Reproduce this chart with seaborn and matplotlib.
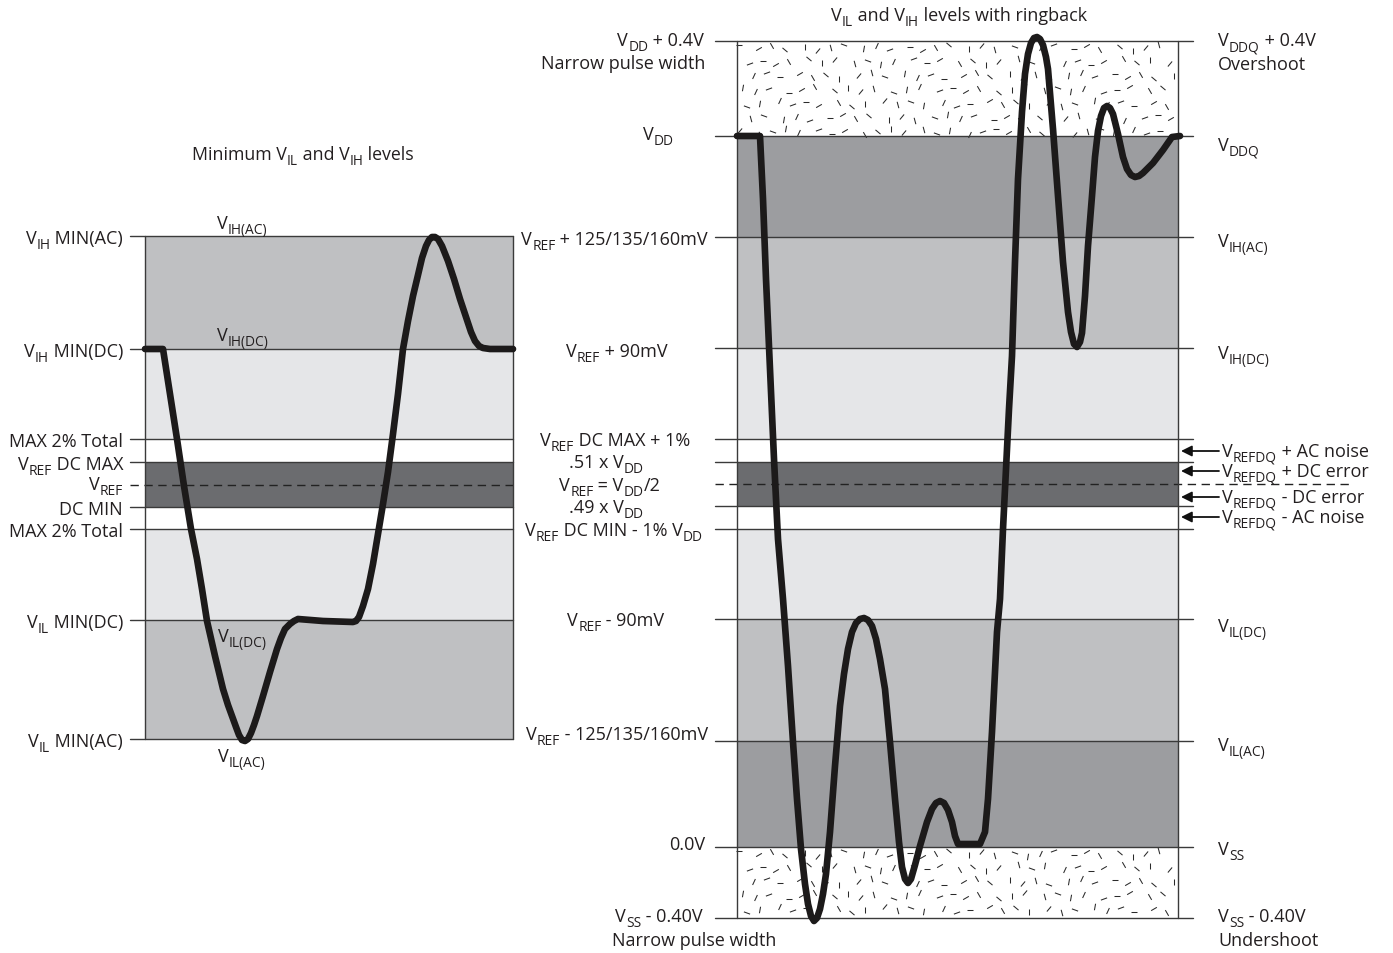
import numpy as np
import matplotlib
matplotlib.use('Agg')
import matplotlib.pyplot as plt
import seaborn as sns
from matplotlib.collections import LineCollection

sns.set_theme(style='white')
plt.rcParams['font.family'] = ['Open Sans', 'DejaVu Sans']

# --- level positions (pixel rows) ---
left_levels = [237, 350, 440, 463, 486, 508, 530, 621, 740]
right_levels = [42, 137, 238, 349, 440, 463, 485, 507, 530, 620, 742, 848, 919]

MID, LIGHT, DARK, DARKER = '#bfc0c2', '#e5e6e8', '#6b6c6f', '#9c9da0'

left_bands = [(237, 350, MID), (350, 440, LIGHT), (440, 463, 'white'),
              (463, 508, DARK), (508, 530, 'white'), (530, 621, LIGHT), (621, 740, MID)]
right_bands = [(137, 238, DARKER), (238, 349, MID), (349, 440, LIGHT), (440, 463, 'white'),
               (463, 507, DARK), (507, 530, 'white'), (530, 620, LIGHT), (620, 742, MID),
               (742, 848, DARKER)]
stipple_bands = [(42, 137), (848, 919)]

# --- waveforms ---
left_x = [145, 163, 170, 177, 184, 191, 197, 202, 207, 215, 223, 228, 232, 236, 239, 242, 245,
          248, 251, 254, 257, 263, 270, 277, 281, 285, 290, 294, 298, 323, 353, 356, 359, 363,
          368, 373, 378, 383, 388, 393, 398, 403, 408, 413, 418, 422, 426, 429, 432, 435, 438,
          442, 448, 454, 460, 466, 471, 475, 479, 483, 490, 513]
left_y = [350, 350, 395, 440, 487, 530, 560, 590, 622, 657, 690, 706, 717, 728, 736, 741, 742,
          740, 734, 726, 717, 697, 673, 650, 639, 630, 625, 622, 620, 622, 623, 622, 618, 607,
          590, 565, 535, 505, 473, 435, 395, 350, 322, 297, 276, 259, 247, 241, 238, 238, 240,
          247, 262, 280, 300, 318, 333, 342, 347, 349, 350, 350]

right_x = [737, 760, 763, 766, 770, 774, 778, 783, 788, 793, 797, 801, 805, 808, 811, 814, 817,
           820, 823, 826, 830, 835, 840, 844, 848, 852, 856, 860, 864, 868, 872, 876, 880, 885,
           890, 895, 899, 902, 905, 908, 911, 915, 920, 927, 932, 936, 940, 944, 948, 952, 955,
           958, 980, 985, 988, 992, 997, 1000, 1003, 1006, 1009, 1012, 1015, 1018, 1022, 1025,
           1028, 1031, 1034, 1037, 1040, 1043, 1046, 1048, 1053, 1058, 1063, 1068, 1071, 1074,
           1077, 1080, 1082, 1085, 1088, 1092, 1095, 1098, 1101, 1104, 1107, 1110, 1113, 1118,
           1123, 1127, 1131, 1135, 1139, 1143, 1153, 1163, 1172, 1180]
right_y = [137, 137, 200, 280, 370, 460, 540, 600, 667, 743, 800, 850, 885, 905, 917, 922, 919,
           910, 895, 875, 833, 767, 707, 675, 650, 633, 624, 620, 619, 621, 627, 640, 660, 690,
           743, 800, 843, 868, 880, 884, 880, 866, 847, 823, 810, 804, 802, 804, 811, 823, 837,
           845, 845, 833, 800, 733, 633, 600, 530, 470, 410, 357, 263, 180, 113, 75, 55, 44, 39,
           38, 40, 46, 58, 70, 130, 197, 263, 313, 333, 345, 348, 343, 334, 297, 247, 197, 158,
           132, 117, 109, 107, 109, 115, 135, 158, 170, 176, 178, 177, 174, 164, 151, 138, 137]

W, H = 1393, 954
fig = plt.figure(figsize=(W / 100, H / 100), dpi=100)
ax = fig.add_axes([0, 0, 1, 1])
ax.set_xlim(0, W)
ax.set_ylim(H, 0)
ax.axis('off')
renderer = fig.canvas.get_renderer()

LINE = '#3a3a3a'


def bands(x0, x1, spec):
    for top, bot, col in spec:
        ax.fill_between([x0, x1], top, bot, color=col, lw=0, zorder=1)


def stipple(x0, x1, y0, y1):
    # decorative texture of short strokes on a fixed lattice
    segs = []
    angles = np.deg2rad([0, 40, 75, 115, 150, 90, 20, 160, 60, 130, 100])
    for r, y in enumerate(np.arange(y0 + 7, y1 - 3, 14)):
        for c, x in enumerate(np.arange(x0 + 5 + (r % 3) * 5, x1 - 4, 15)):
            a = angles[(r * 7 + c * 4) % len(angles)]
            cx = x + ((r * 13 + c * 5) % 7) - 3
            cy = y + ((r * 5 + c * 11) % 7) - 3
            L = 3.3
            segs.append([(cx - L * np.cos(a), cy - L * np.sin(a)),
                         (cx + L * np.cos(a), cy + L * np.sin(a))])
    ax.add_collection(LineCollection(segs, colors='#2a2a2a', linewidths=0.75, zorder=2))


# left panel
bands(145, 513, left_bands)
for y in left_levels:
    if y == 486:
        ax.plot([130, 513], [y, y], color='#222222', lw=1.0, ls=(0, (6, 4)), zorder=3)
    else:
        ax.plot([130, 513], [y, y], color=LINE, lw=1.0, zorder=3)
ax.plot([145, 145], [237, 740], color=LINE, lw=1.0, zorder=3)
ax.plot([513, 513], [237, 740], color=LINE, lw=1.0, zorder=3)

# right panel
bands(737, 1178, right_bands)
for y0, y1 in stipple_bands:
    stipple(737, 1178, y0, y1)
for y in right_levels:
    if y == 485:
        ax.plot([715, 1350], [y, y], color='#222222', lw=1.0, ls=(0, (6, 4)), zorder=3)
    else:
        ax.plot([715, 1193], [y, y], color=LINE, lw=1.0, zorder=3)
ax.plot([737, 737], [42, 919], color=LINE, lw=1.0, zorder=3)
ax.plot([1178, 1178], [42, 919], color=LINE, lw=1.0, zorder=3)

# waveforms
for xs, ys in [(left_x, left_y), (right_x, right_y)]:
    sns.lineplot(x=xs, y=ys, sort=False, estimator=None, ax=ax, color='#1c1a1a', lw=4.8,
                 solid_capstyle='round', solid_joinstyle='round', zorder=5)

FS = 13
TC = '#231f20'


def label(x, y, text, ha='left', fs=FS):
    # text pieces split by '_{..}' -> subscripts drawn smaller and lowered
    parts = []
    rest = text
    while '_{' in rest:
        i = rest.index('_{')
        j = rest.index('}', i)
        parts.append((rest[:i], False))
        parts.append((rest[i + 2:j], True))
        rest = rest[j + 1:]
    parts.append((rest, False))
    arts, cur = [], x
    for s, is_sub in parts:
        if not s:
            continue
        size = fs * 0.76 if is_sub else fs
        dy = 5 if is_sub else 0
        a = ax.text(cur, y + dy, s, fontsize=size, color=TC, ha='left', va='baseline', zorder=6)
        cur += a.get_window_extent(renderer).width
        arts.append(a)
    width = cur - x
    shift = {'left': 0, 'center': width / 2, 'right': width}[ha]
    for a in arts:
        px, py = a.get_position()
        a.set_position((px - shift, py))


# left panel text
label(303, 160, 'Minimum V_{IL} and V_{IH} levels', ha='center', fs=12.8)
label(123, 244, 'V_{IH} MIN(AC)', ha='right')
label(123, 357, 'V_{IH} MIN(DC)', ha='right')
label(123, 447, 'MAX 2% Total', ha='right')
label(123, 470, 'V_{REF} DC MAX', ha='right')
label(123, 490, 'V_{REF}', ha='right')
label(123, 515, 'DC MIN', ha='right')
label(123, 537, 'MAX 2% Total', ha='right')
label(123, 628, 'V_{IL} MIN(DC)', ha='right')
label(123, 747, 'V_{IL} MIN(AC)', ha='right')
label(217, 229, 'V_{IH(AC)}')
label(217, 341, 'V_{IH(DC)}')
label(218, 642, 'V_{IL(DC)}')
label(218, 762, 'V_{IL(AC)}')

# right panel, left labels
label(959, 21, 'V_{IL} and V_{IH} levels with ringback', ha='center', fs=13)
label(704, 46, 'V_{DD} + 0.4V', ha='right')
label(705, 69, 'Narrow pulse width', ha='right')
label(658, 140, 'V_{DD}', ha='center')
label(708, 245, 'V_{REF} + 125/135/160mV', ha='right')
label(617, 357, 'V_{REF} + 90mV', ha='center')
label(615, 446, 'V_{REF} DC MAX + 1%', ha='center')
label(606, 468, '.51 x V_{DD}', ha='center')
label(610, 491, 'V_{REF} = V_{DD}/2', ha='center')
label(606, 513, '.49 x V_{DD}', ha='center')
label(614, 536, 'V_{REF} DC MIN - 1% V_{DD}', ha='center')
label(616, 626, 'V_{REF} - 90mV', ha='center')
label(708, 740, 'V_{REF} - 125/135/160mV', ha='right')
label(705, 850, '0.0V', ha='right')
label(703, 922, 'V_{SS} - 0.40V', ha='right')
label(612, 946, 'Narrow pulse width')

# right panel, right labels
label(1218, 46, 'V_{DDQ} + 0.4V')
label(1218, 70, 'Overshoot')
label(1218, 151, 'V_{DDQ}')
label(1218, 247, 'V_{IH(AC)}')
label(1218, 359, 'V_{IH(DC)}')
label(1218, 632, 'V_{IL(DC)}')
label(1218, 751, 'V_{IL(AC)}')
label(1218, 855, 'V_{SS}')
label(1218, 922, 'V_{SS} - 0.40V')
label(1218, 946, 'Undershoot')

arrow_y = [452, 472, 498, 518]
arrow_txt = ['V_{REFDQ} + AC noise', 'V_{REFDQ} + DC error',
             'V_{REFDQ} - DC error', 'V_{REFDQ} - AC noise']
for y, s in zip(arrow_y, arrow_txt):
    ax.annotate('', xy=(1181, y), xytext=(1219, y),
                arrowprops=dict(arrowstyle='-|>', color='#111111', lw=1.3, mutation_scale=16,
                                shrinkA=0, shrinkB=0), zorder=6)
    label(1222, y + 5, s)

fig.savefig('out.png', dpi=100, facecolor='white')
